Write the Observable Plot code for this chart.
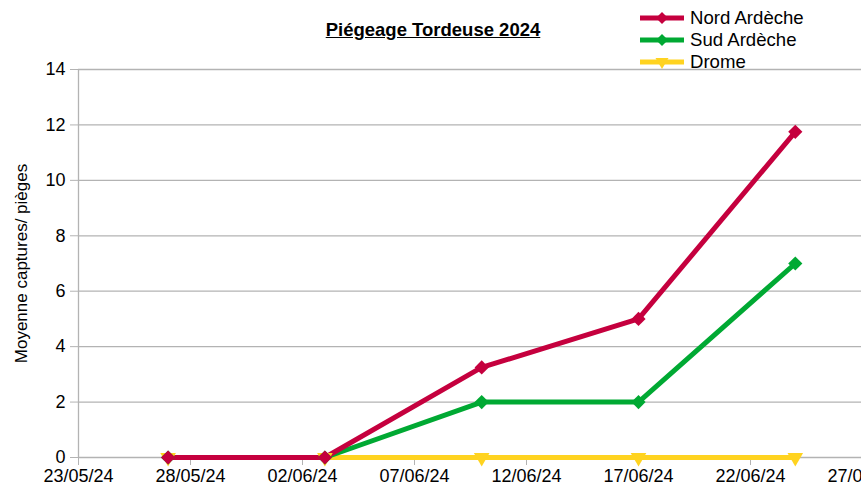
<!DOCTYPE html>
<html>
<head>
<meta charset="utf-8">
<script src="https://cdn.jsdelivr.net/npm/d3@7"></script>
<script src="https://cdn.jsdelivr.net/npm/@observablehq/plot@0.6"></script>
<style>
  html, body { margin: 0; padding: 0; background: #fff; overflow: hidden; }
  #wrap { position: relative; width: 861px; height: 488px; font-family: "Liberation Sans", Arial, sans-serif; }
  #title { position: absolute; left: 0; width: 866px; top: 19px; text-align: center; font-weight: bold; font-size: 18.5px; text-decoration: underline; color: #000; }
  #legend { position: absolute; left: 640px; top: 7px; font-size: 18.6px; color: #000; }
  .item { display: flex; align-items: center; height: 22px; }
  .item svg { margin-right: 6px; }
</style>
</head>
<body>
<div id="wrap">
  <div id="chart"></div>
  <div id="title">Piégeage Tordeuse 2024</div>
  <div id="legend"></div>
</div>
<script>
const dates = ["2024-05-27", "2024-06-03", "2024-06-10", "2024-06-17", "2024-06-24"];
const nordArdeche = [0, 0, 3.25, 5, 11.75];
const sudArdeche = [0, 0, 2, 2, 7];
const drome = [0, 0, 0, 0, 0];
const seriesNames = ["Drome", "Sud Ardèche", "Nord Ardèche"];
const seriesColors = ["#ffd320", "#00a933", "#c5003e"];
const xTicks = ["2024-05-23", "2024-05-28", "2024-06-02", "2024-06-07", "2024-06-12", "2024-06-17", "2024-06-22", "2024-06-27"];
const yTicks = [0, 2, 4, 6, 8, 10, 12, 14];

const parse = d3.utcParse("%Y-%m-%d");
const seriesValues = [drome, sudArdeche, nordArdeche];
const rows = [];
seriesNames.forEach((name, i) => {
  dates.forEach((d, j) => rows.push({series: name, date: parse(d), value: seriesValues[i][j]}));
});
const colorOf = Object.fromEntries(seriesNames.map((n, i) => [n, seriesColors[i]]));
const ticks = xTicks.map(parse);

const chart = Plot.plot({
  width: 861,
  height: 488,
  marginLeft: 78,
  marginRight: 0,
  marginTop: 69,
  marginBottom: 31,
  style: {fontFamily: "'Liberation Sans', Arial, sans-serif", fontSize: "18px", color: "#000", background: "#fff", overflow: "visible"},
  x: {type: "utc", domain: [ticks[0], ticks[ticks.length - 1]], range: [78, 862]},
  y: {domain: [0, 14], range: [457, 69]},
  marks: [
    Plot.ruleY(yTicks, {x1: ticks[0], x2: ticks[ticks.length - 1], stroke: "#b3b3b3", strokeWidth: 1.3}),
    Plot.axisY({ticks: yTicks, tickSize: 8, tickPadding: 5, stroke: "#b3b3b3", fontSize: 18, label: "Moyenne captures/ pièges", labelAnchor: "center", labelArrow: false, labelOffset: 64}),
    Plot.axisX({ticks: ticks, tickFormat: d3.utcFormat("%d/%m/%y"), tickSize: 8, tickPadding: 4, stroke: "#b3b3b3", fontSize: 18, label: null}),
    Plot.ruleX([ticks[0]], {y1: 0, y2: 14, stroke: "#b3b3b3", strokeWidth: 1.3}),
    Plot.line(rows, {x: "date", y: "value", z: "series", stroke: d => colorOf[d.series], strokeWidth: 5, strokeLinejoin: "miter"}),
    Plot.dot(rows.filter(d => d.series === "Drome"), {x: "date", y: "value", symbol: "triangle", rotate: 180, r: 5.8, fill: colorOf["Drome"], stroke: "none"}),
    Plot.dot(rows.filter(d => d.series !== "Drome"), {x: "date", y: "value", symbol: "diamond2", r: 6.4, fill: d => colorOf[d.series], stroke: "none"})
  ]
});
document.getElementById("chart").appendChild(chart);
chart.querySelectorAll("[aria-label='y-axis label'] text").forEach(t => t.setAttribute("font-size", "17"));

const legendOrder = ["Nord Ardèche", "Sud Ardèche", "Drome"];
const legend = d3.select("#legend");
legendOrder.forEach(name => {
  const item = legend.append("div").attr("class", "item");
  const s = item.append("svg").attr("width", 44).attr("height", 14);
  s.append("line").attr("x1", 0).attr("x2", 44).attr("y1", 7).attr("y2", 7).attr("stroke", colorOf[name]).attr("stroke-width", 5);
  if (name === "Drome") {
    s.append("path").attr("d", "M15.5,3 L28.5,3 L22,14 Z").attr("fill", colorOf[name]);
  } else {
    s.append("path").attr("d", "M22,1 L28,7 L22,13 L16,7 Z").attr("fill", colorOf[name]);
  }
  item.append("span").text(name);
});
</script>
</body>
</html>
